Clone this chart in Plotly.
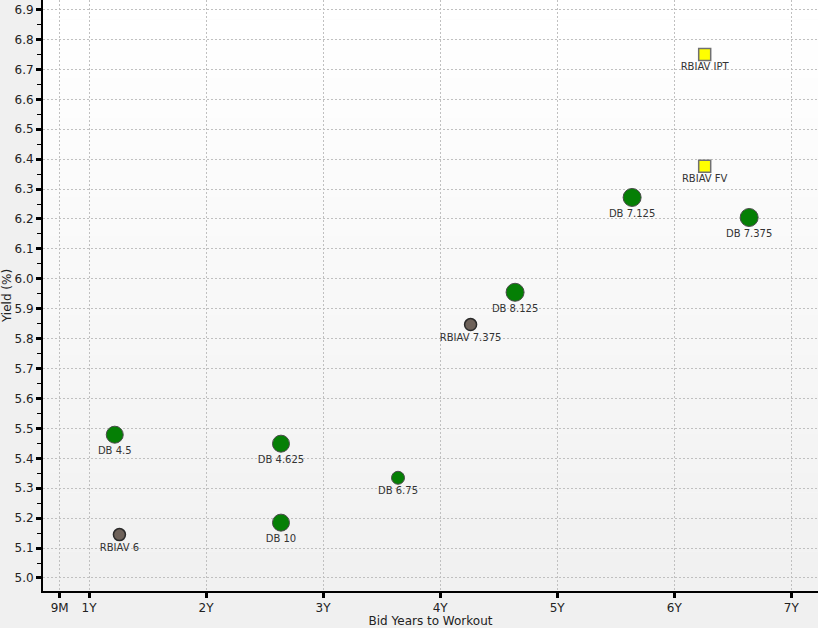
import plotly.graph_objects as go

# ---- data ----
db_names = ["DB 4.5", "DB 4.625", "DB 10", "DB 6.75", "DB 8.125", "DB 7.125", "DB 7.375"]
db_x = [1.22, 2.64, 2.64, 3.64, 4.64, 5.64, 6.64]
db_y = [5.479, 5.449, 5.185, 5.335, 5.955, 6.272, 6.205]
db_size = [17, 17, 17, 13, 18, 18, 18]

rb_names = ["RBIAV 6", "RBIAV 7.375"]
rb_x = [1.26, 4.26]
rb_y = [5.145, 5.847]

ref_names = ["RBIAV IPT", "RBIAV FV"]
ref_x = [6.26, 6.26]
ref_y = [6.750, 6.376]

x_tickvals = [0.75, 1, 2, 3, 4, 5, 6, 7]
x_ticktext = ["9M", "1Y", "2Y", "3Y", "4Y", "5Y", "6Y", "7Y"]
y_tickvals = [5.0, 5.1, 5.2, 5.3, 5.4, 5.5, 5.6, 5.7, 5.8, 5.9, 6.0,
              6.1, 6.2, 6.3, 6.4, 6.5, 6.6, 6.7, 6.8, 6.9]

FONT = "DejaVu Sans"
fig = go.Figure()

fig.add_trace(go.Scatter(
    x=db_x, y=db_y, mode="markers+text", text=db_names,
    textposition="bottom center",
    textfont=dict(family=FONT, size=10, color="#333333"),
    marker=dict(size=db_size, color="#057f05", opacity=1,
                line=dict(color="#4a4a4a", width=1)),
    showlegend=False, cliponaxis=False))

fig.add_trace(go.Scatter(
    x=rb_x, y=rb_y, mode="markers+text", text=rb_names,
    textposition="bottom center",
    textfont=dict(family=FONT, size=10, color="#333333"),
    marker=dict(size=12, color="#6e625a", opacity=1,
                line=dict(color="#2a2a2a", width=1.5)),
    showlegend=False, cliponaxis=False))

fig.add_trace(go.Scatter(
    x=ref_x, y=ref_y, mode="markers+text", text=ref_names,
    textposition="bottom center",
    textfont=dict(family=FONT, size=10, color="#333333"),
    marker=dict(size=12, symbol="square", color="#ffff00", opacity=1,
                line=dict(color="#707070", width=1.5)),
    showlegend=False, cliponaxis=False))

# subtle vertical gradient background of the plot area
n = 30
shapes = []
for i in range(n):
    t = i / (n - 1)
    c = int(round(255 - t * 14))
    shapes.append(dict(type="rect", xref="x domain", yref="y domain",
                       x0=0, x1=1, y0=1 - (i + 1) / n, y1=1 - i / n,
                       fillcolor=f"rgb({c},{c},{c})", line=dict(width=0), layer="below"))

fig.update_layout(
    width=818, height=628,
    margin=dict(l=43, r=0, t=0, b=37),
    paper_bgcolor="#f0f0f0", plot_bgcolor="#f8f8f8",
    font=dict(family=FONT, size=12, color="#222222"),
    shapes=shapes,
    xaxis=dict(range=[0.607, 7.228], tickvals=x_tickvals, ticktext=x_ticktext,
               showgrid=True, gridcolor="#c0c0c0", griddash="2px,2px", gridwidth=1,
               showline=True, linecolor="#000000", linewidth=2,
               ticks="outside", ticklen=5, tickwidth=3, tickcolor="#000000",
               tickfont=dict(family=FONT, size=12, color="#222222"),
               zeroline=False, automargin=False,
               title=dict(text="Bid Years to Workout", standoff=2,
                          font=dict(family=FONT, size=12, color="#222222"))),
    yaxis=dict(range=[4.9565, 6.932], tickvals=y_tickvals,
               tickformat=".1f",
               showgrid=True, gridcolor="#c0c0c0", griddash="2px,2px", gridwidth=1,
               showline=True, linecolor="#000000", linewidth=2,
               ticks="outside", ticklen=5, tickwidth=3, tickcolor="#000000",
               minor=dict(dtick=0.05, tick0=5.0, ticks="outside", ticklen=4,
                          tickwidth=1, tickcolor="#000000", showgrid=False),
               tickfont=dict(family=FONT, size=12, color="#222222"),
               zeroline=False, automargin=False,
               title=dict(text="Yield (%)", standoff=4,
                          font=dict(family=FONT, size=12, color="#222222"))),
)

fig.write_html("out.html", config={"displayModeBar": False},
               post_script="document.body.style.margin='0';document.body.style.overflow='hidden';")
